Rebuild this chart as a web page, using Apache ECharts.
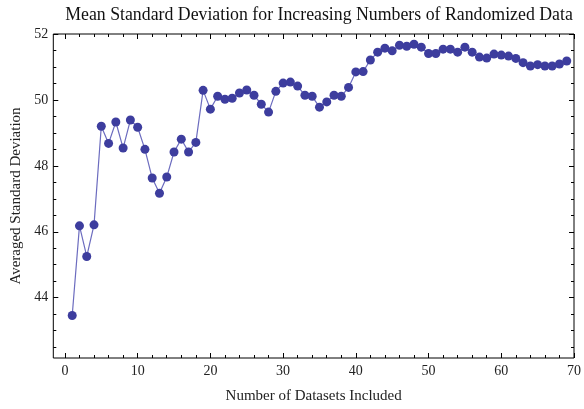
<!DOCTYPE html>
<html>
<head>
<meta charset="utf-8">
<script src="https://cdn.jsdelivr.net/npm/echarts@6/dist/echarts.min.js"></script>
<style>html,body{margin:0;padding:0;background:#fff}#c{width:584px;height:409px}</style>
</head>
<body>
<div id="c"></div>
<script>
var titleText = "Mean Standard Deviation for Increasing Numbers of Randomized Data";
var xName = "Number of Datasets Included";
var yName = "Averaged Standard Deviation";
var xTicks = [0, 10, 20, 30, 40, 50, 60, 70];
var xMinorTicks = [2,4,6,8,12,14,16,18,22,24,26,28,32,34,36,38,42,44,46,48,52,54,56,58,62,64,66,68];
var yTicks = [44, 46, 48, 50, 52];
var yMinorTicks = [42.5,43,43.5,44.5,45,45.5,46.5,47,47.5,48.5,49,49.5,50.5,51,51.5];
var xValues = [];
for (var i = 1; i <= 69; i++) xValues.push(i);
var yValues = [43.46,46.18,45.25,46.21,49.20,48.68,49.33,48.54,49.39,49.17,
  48.50,47.63,47.17,47.66,48.42,48.81,48.42,48.71,50.29,49.72,
  50.11,50.02,50.05,50.21,50.30,50.14,49.87,49.63,50.26,50.51,
  50.54,50.42,50.14,50.11,49.78,49.94,50.14,50.11,50.38,50.85,
  50.86,51.21,51.45,51.57,51.49,51.66,51.63,51.69,51.60,51.41,
  51.41,51.54,51.54,51.45,51.60,51.45,51.30,51.27,51.39,51.36,
  51.33,51.26,51.13,51.03,51.07,51.03,51.03,51.09,51.18];

var FONT = "Liberation Serif";
var XMIN = -1.6, XMAX = 70, YMIN = 42.17, YMAX = 52;

function xAx(pos, ticks, len, labels, extra) {
  var a = {
    type: 'value', position: pos, min: XMIN, max: XMAX,
    axisLine: {show: false, onZero: false}, splitLine: {show: false},
    axisTick: {show: true, inside: true, length: len, customValues: ticks, lineStyle: {color: '#000', width: 1}},
    axisLabel: labels ? {show: true, customValues: ticks, fontFamily: FONT, fontSize: 14, color: '#222', margin: 6} : {show: false}
  };
  if (extra) for (var k in extra) a[k] = extra[k];
  return a;
}
function yAx(pos, ticks, len, labels, extra) {
  var a = {
    type: 'value', position: pos, min: YMIN, max: YMAX,
    axisLine: {show: false, onZero: false}, splitLine: {show: false},
    axisTick: {show: true, inside: true, length: len, customValues: ticks, lineStyle: {color: '#000', width: 1}},
    axisLabel: labels ? {show: true, customValues: ticks, fontFamily: FONT, fontSize: 14, color: '#222', margin: 5} : {show: false}
  };
  if (extra) for (var k in extra) a[k] = extra[k];
  return a;
}

var chart = echarts.init(document.getElementById('c'), null, {renderer: 'canvas'});
chart.setOption({
  animation: false,
  backgroundColor: '#fff',
  title: {
    text: titleText, left: 314, top: 1, textAlign: 'center',
    textStyle: {fontFamily: FONT, fontSize: 17.8, fontWeight: 'normal', color: '#111'}
  },
  grid: {left: 53.3, right: 6.7, top: 34, bottom: 49, show: true, borderColor: '#000', borderWidth: 1, backgroundColor: 'transparent'},
  xAxis: [
    xAx('bottom', xTicks, 5, true, {name: xName, nameLocation: 'middle', nameGap: 31,
      nameTextStyle: {fontFamily: FONT, fontSize: 15, color: '#222'}}),
    xAx('bottom', xMinorTicks, 3, false),
    xAx('top', xTicks, 5, false),
    xAx('top', xMinorTicks, 3, false)
  ],
  yAxis: [
    yAx('left', yTicks, 5, true, {name: yName, nameLocation: 'middle', nameGap: 25,
      nameTextStyle: {fontFamily: FONT, fontSize: 15, color: '#222'}}),
    yAx('left', yMinorTicks, 3, false),
    yAx('right', yTicks, 5, false),
    yAx('right', yMinorTicks, 3, false)
  ],
  series: [{
    type: 'line', xAxisIndex: 0, yAxisIndex: 0,
    data: xValues.map(function (x, i) { return [x, yValues[i]]; }),
    symbol: 'circle', symbolSize: 9,
    itemStyle: {color: '#3d3d9e'},
    lineStyle: {color: '#6c6cbf', width: 1.2}
  }]
});
</script>
</body>
</html>
